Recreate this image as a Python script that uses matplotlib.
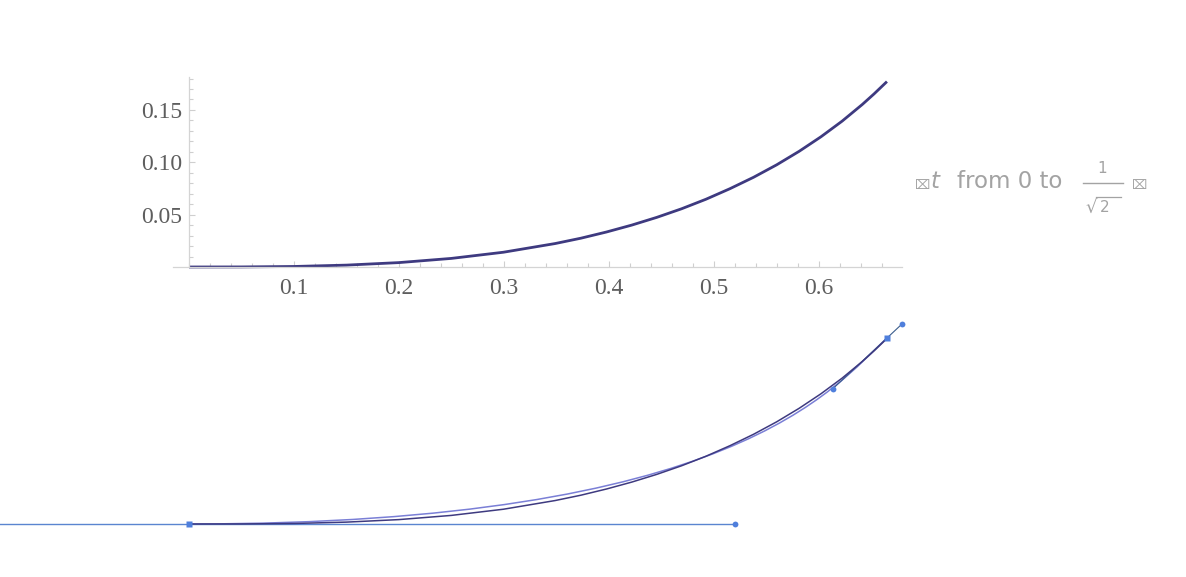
import numpy as np
import matplotlib.pyplot as plt
from matplotlib.path import Path
from matplotlib.patches import PathPatch
from matplotlib.ticker import MultipleLocator, FixedLocator

W, H = 1186, 577

# curve values
curve_x = [0, 0.05, 0.10, 0.15, 0.1999, 0.2498, 0.2994, 0.3487, 0.3732, 0.3975, 0.4216,
           0.4455, 0.4691, 0.4923, 0.5152, 0.5377, 0.5597, 0.5811, 0.6019, 0.6220,
           0.6412, 0.6524, 0.6647]
curve_y = [0, 0.00007, 0.0005, 0.0018, 0.0042, 0.0082, 0.0141, 0.0224, 0.0275, 0.0334, 0.0400,
           0.0474, 0.0556, 0.0647, 0.0748, 0.0857, 0.0976, 0.1105, 0.1244, 0.1393,
           0.1552, 0.1653, 0.1771]

xticks = [0.1, 0.2, 0.3, 0.4, 0.5, 0.6]
xtick_labels = ['0.1', '0.2', '0.3', '0.4', '0.5', '0.6']
yticks = [0.05, 0.10, 0.15]
ytick_labels = ['0.05', '0.10', '0.15']

# bezier sketch below: anchors + handles (same units as the plot)
bez_x = [0, 0.52, 0.613, 0.665]
bez_y = [0, 0, 0.129, 0.178]
handle_out = (0.679, 0.191)
line_left = -0.19

curve_col = '#3e3a80'
blue = '#4f7fdc'
gray_txt = '#a3a3a3'

sx, sy = 1050, 1047   # pixels per data unit


def place(fig, ox, oy, xlim, ylim):
    # ox, oy = pixel position of the data origin
    left = (ox + xlim[0]*sx)/W
    right = (ox + xlim[1]*sx)/W
    bottom = (H - (oy - ylim[0]*sy))/H
    top = (H - (oy - ylim[1]*sy))/H
    ax = fig.add_axes([left, bottom, right-left, top-bottom])
    ax.set_xlim(xlim)
    ax.set_ylim(ylim)
    return ax


fig = plt.figure(figsize=(W/100, H/100), dpi=100)

# --- top plot ---
ax = place(fig, 189, 267, (-0.015, 0.679), (-0.004, 0.181))
ax.patch.set_alpha(0)
ax.plot(curve_x, curve_y, color=curve_col, lw=2.0, solid_capstyle='butt')
for s in ['top', 'right']:
    ax.spines[s].set_visible(False)
ax.spines['left'].set_position(('data', 0))
ax.spines['bottom'].set_position(('data', 0))
ax.spines['left'].set_bounds(0, 0.181)
for s in ['left', 'bottom']:
    ax.spines[s].set_color('#d4d4d4')
    ax.spines[s].set_linewidth(0.9)
ax.xaxis.set_major_locator(FixedLocator(xticks))
ax.set_xticklabels(xtick_labels)
ax.yaxis.set_major_locator(FixedLocator(yticks))
ax.set_yticklabels(ytick_labels)
ax.xaxis.set_minor_locator(MultipleLocator(0.02))
ax.yaxis.set_minor_locator(MultipleLocator(0.01))
ax.tick_params(which='both', direction='in', color='#cfcfcf', width=0.8,
               labelcolor='#5e5e5e', labelsize=17)
ax.tick_params(which='major', length=4.5)
ax.tick_params(which='minor', length=2.8)
ax.tick_params(axis='x', pad=8)
ax.tick_params(axis='y', pad=5)
for lab in ax.get_xticklabels() + ax.get_yticklabels():
    lab.set_family('Liberation Serif')

# --- bezier sketch ---
bx = place(fig, 189, 524, (line_left, 0.70), (-0.02, 0.20))
bx.axis('off')
bx.plot([line_left, bez_x[1]], [0, 0], color='#5a85d0', lw=1.0)
bx.plot([bez_x[2], handle_out[0]], [bez_y[2], handle_out[1]], color='#3b5d8c', lw=0.8)
bx.plot(curve_x, curve_y, color=curve_col, lw=1.1)
path = Path(list(zip(bez_x, bez_y)), [Path.MOVETO, Path.CURVE4, Path.CURVE4, Path.CURVE4])
bx.add_patch(PathPatch(path, fc='none', ec='#7a7fd6', lw=1.1))
bx.plot([bez_x[0], bez_x[3]], [bez_y[0], bez_y[3]], 's', color=blue, ms=4.2, mec='none')
bx.plot([bez_x[1], bez_x[2], handle_out[0]], [bez_y[1], bez_y[2], handle_out[1]],
        'o', color=blue, ms=4.2, mec='none')

# --- label on the right ---
def ftext(x, y, s, **kw):
    fig.text(x/W, 1 - y/H, s, color=gray_txt, **kw)

ftext(915, 189, '\u2327', fontsize=9.5, family='DejaVu Sans', va='baseline')
ftext(931, 188, 't', fontsize=16.5, family='DejaVu Sans', style='italic', va='baseline')
ftext(957, 188, 'from 0 to', fontsize=16.5, family='DejaVu Sans', va='baseline')
ftext(1102, 173, '1', fontsize=11, family='DejaVu Sans', ha='center', va='baseline')
fig.add_artist(plt.Line2D([1083/W, 1123/W], [1 - 183/H, 1 - 183/H], color=gray_txt, lw=1.0))
ftext(1085, 213, '\u221a', fontsize=13, family='DejaVu Sans', va='baseline')
ftext(1100, 212, '2', fontsize=11, family='DejaVu Sans', va='baseline')
fig.add_artist(plt.Line2D([1096/W, 1121/W], [1 - 197/H, 1 - 197/H], color=gray_txt, lw=0.9))
ftext(1132, 189, '\u2327', fontsize=9.5, family='DejaVu Sans', va='baseline')

fig.savefig('out.png', dpi=100, facecolor='white')
